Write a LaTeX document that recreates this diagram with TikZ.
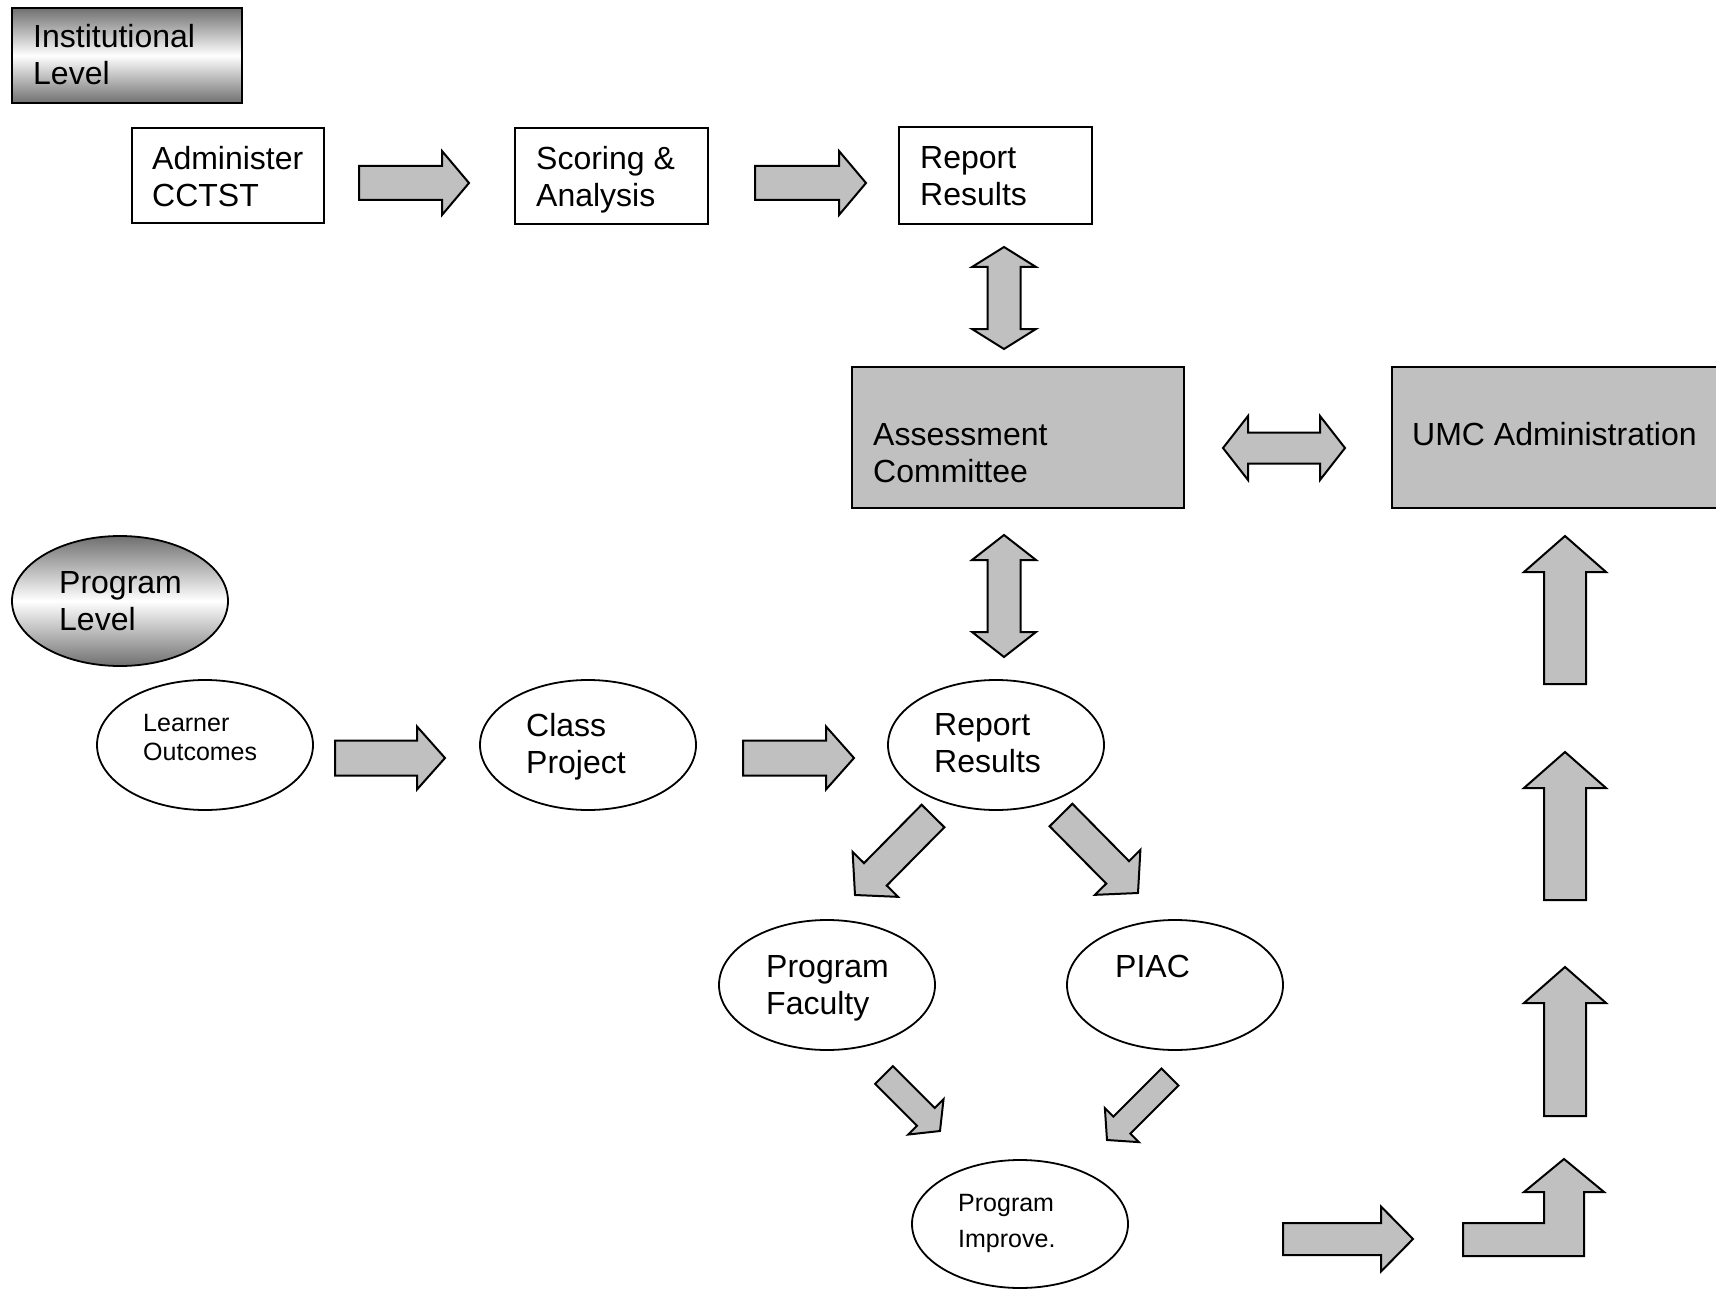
\documentclass[tikz,border=0pt]{standalone}
\usepackage{fontspec}
\setmainfont{Liberation Sans}
\usetikzlibrary{calc,shapes.geometric}
\definecolor{silver}{RGB}{192,192,192}
\definecolor{shadedark}{RGB}{112,112,112}
\newcommand\twol[2]{\vtop{\hbox{#1}\hbox{#2}}}
% single block arrow: tail, tip, shaft half width, head half width, head length
\newcommand\blockarrow[5]{%
  \coordinate (bah) at ($(#2)!#5!(#1)$);
  \draw[arr] ($(#1)!#3!90:(#2)$) -- ($(bah)!#3!90:(#2)$) -- ($(bah)!#4!90:(#2)$) -- (#2)
    -- ($(bah)!#4!-90:(#2)$) -- ($(bah)!#3!-90:(#2)$) -- ($(#1)!#3!-90:(#2)$) -- cycle;}
% double block arrow: end A, end B, shaft half width, head half width, head length
\newcommand\dblarrow[5]{%
  \coordinate (dha) at ($(#1)!#5!(#2)$);
  \coordinate (dhb) at ($(#2)!#5!(#1)$);
  \draw[arr] (#1) -- ($(dha)!#4!90:(#2)$) -- ($(dha)!#3!90:(#2)$) -- ($(dhb)!#3!-90:(#1)$)
    -- ($(dhb)!#4!-90:(#1)$) -- (#2) -- ($(dhb)!#4!90:(#1)$) -- ($(dhb)!#3!90:(#1)$)
    -- ($(dha)!#3!-90:(#2)$) -- ($(dha)!#4!-90:(#2)$) -- cycle;}
\begin{document}
\begin{tikzpicture}[x=1pt,y=-1pt,
  box/.style={draw=black, line width=2pt, fill=white, inner sep=0pt},
  graybox/.style={draw=black, line width=2pt, fill=silver, inner sep=0pt},
  shadebox/.style={draw=black, line width=2pt, top color=shadedark, bottom color=shadedark, middle color=white, inner sep=0pt},
  ell/.style={ellipse, draw=black, line width=1.8pt, fill=white, minimum width=216pt, minimum height=130pt, inner sep=0pt},
  shadeell/.style={ell, top color=shadedark, bottom color=shadedark, middle color=white},
  arr/.style={draw=black, line width=2pt, fill=silver, line join=miter},
  txt/.style={inner sep=0pt, anchor=base west, font=\fontsize{32}{37}\selectfont},
  smalltxt/.style={txt, font=\fontsize{25}{29}\selectfont},
  smalltxtw/.style={txt, font=\fontsize{25}{36}\selectfont}]
\useasboundingbox (0,0) rectangle (1716,1289);
\clip (0,0) rectangle (1716,1289);

% ---------- institutional level ----------
\node[shadebox, minimum width=230pt, minimum height=95pt] (inst) at (127,55.5) {};
\node[txt] (t-inst) at (33,48) {\twol{Institutional}{Level}};

\node[box, minimum width=192pt, minimum height=95pt] (admin) at (228,175.5) {};
\node[txt] (t-admin) at (152,170) {\twol{Administer}{CCTST}};
\node[box, minimum width=193pt, minimum height=96pt] (score) at (611.5,176) {};
\node[txt] (t-score) at (536,170) {\twol{Scoring \&}{Analysis}};
\node[box, minimum width=193pt, minimum height=97pt] (rep1) at (995.5,175.5) {};
\node[txt] (t-rep1) at (920,169) {\twol{Report}{Results}};

\node[graybox, minimum width=332pt, minimum height=141pt] (assess) at (1018,437.5) {};
\node[txt] (t-assess) at (873,445) {\twol{Assessment}{Committee}};
\node[graybox, minimum width=338pt, minimum height=141pt] (umc) at (1561,437.5) {};
\node[txt] (t-umc) at (1412,445) {UMC Administration};

% ---------- program level ----------
\node[shadeell] (prog) at (120,601) {};
\node[txt] (t-prog) at (59,593) {\twol{Program}{Level}};
\node[ell] (learn) at (205,745) {};
\node[smalltxt] (t-learn) at (143,731) {\twol{Learner}{Outcomes}};
\node[ell] (class) at (588,745) {};
\node[txt] (t-class) at (526,736) {\twol{Class}{Project}};
\node[ell] (rep2) at (996,745) {};
\node[txt] (t-rep2) at (934,735) {\twol{Report}{Results}};
\node[ell] (fac) at (827,985) {};
\node[txt] (t-fac) at (766,977) {\twol{Program}{Faculty}};
\node[ell] (piac) at (1175,985) {};
\node[txt] (t-piac) at (1115,977) {PIAC};
\node[ell, minimum height=128pt] (impr) at (1020,1224) {};
\node[smalltxtw] (t-impr) at (958,1211) {\twol{Program}{Improve.}};

% ---------- arrow end points ----------
\coordinate (a1t) at (359,183);   \coordinate (a1h) at (469,183);
\coordinate (a2t) at (755,183);   \coordinate (a2h) at (866,183);
\coordinate (v1a) at (1004,247);  \coordinate (v1b) at (1004,349);
\coordinate (h1a) at (1223,448);  \coordinate (h1b) at (1345,448);
\coordinate (v2a) at (1004,535);  \coordinate (v2b) at (1004,657);
\coordinate (p1t) at (335,758);   \coordinate (p1h) at (445,758);
\coordinate (p2t) at (743,758);   \coordinate (p2h) at (854,758);
\coordinate (d1t) at (933,816);   \coordinate (d1h) at (855,895);
\coordinate (d2t) at (1061,815);  \coordinate (d2h) at (1138,893);
\coordinate (d3t) at (884,1075);  \coordinate (d3h) at (940,1131);
\coordinate (d4t) at (1170,1077); \coordinate (d4h) at (1107,1140);
\coordinate (rt) at (1283,1239);  \coordinate (rh) at (1413,1239);
\coordinate (u1t) at (1565,684);  \coordinate (u1h) at (1565,536);
\coordinate (u2t) at (1565,900);  \coordinate (u2h) at (1565,752);
\coordinate (u3t) at (1565,1116); \coordinate (u3h) at (1565,967);
\coordinate (bend) at (1463,1223);

% ---------- block arrows ----------
\blockarrow{a1t}{a1h}{17pt}{32pt}{27pt}
\blockarrow{a2t}{a2h}{17pt}{32pt}{27pt}
\dblarrow{v1a}{v1b}{16.5pt}{32pt}{20pt}
\dblarrow{h1a}{h1b}{15.5pt}{32pt}{25pt}
\dblarrow{v2a}{v2b}{16.5pt}{32pt}{25pt}
\blockarrow{p1t}{p1h}{17.5pt}{31.5pt}{28pt}
\blockarrow{p2t}{p2h}{17.5pt}{31.5pt}{28pt}
\blockarrow{d1t}{d1h}{16pt}{32pt}{29pt}
\blockarrow{d2t}{d2h}{16pt}{32pt}{29pt}
\blockarrow{d3t}{d3h}{12.5pt}{25pt}{20pt}
\blockarrow{d4t}{d4h}{12pt}{24pt}{21pt}
\blockarrow{rt}{rh}{16pt}{32.5pt}{32pt}
\blockarrow{u1t}{u1h}{21pt}{41pt}{36pt}
\blockarrow{u2t}{u2h}{21pt}{41pt}{36pt}
\blockarrow{u3t}{u3h}{21pt}{41pt}{36pt}
% bent-up arrow
\draw[arr] (bend) -- ++(81,0) -- ++(0,-31) -- ++(-20,0) -- ++(40,-33) -- ++(40,33)
  -- ++(-20,0) -- ++(0,64) -- ++(-121,0) -- cycle;
\end{tikzpicture}
\end{document}
